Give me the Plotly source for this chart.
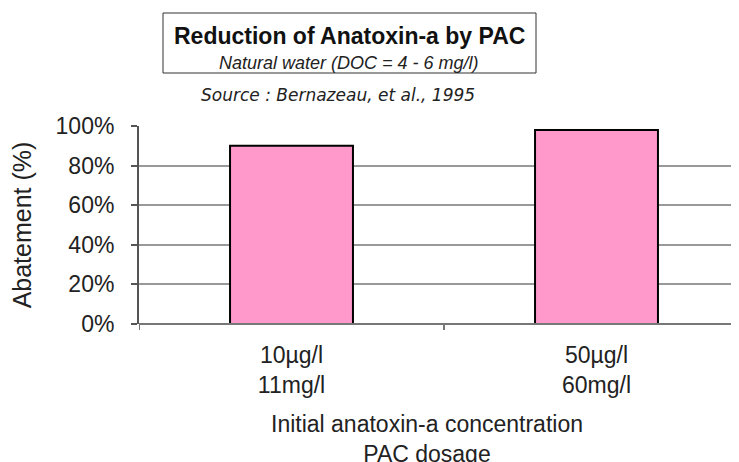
import plotly.graph_objects as go

categories = ["10µg/l<br>11mg/l", "50µg/l<br>60mg/l"]
abatement = [0.90, 0.98]
y_ticks = [0, 0.2, 0.4, 0.6, 0.8, 1.0]
y_tick_labels = ["0%", "20%", "40%", "60%", "80%", "100%"]

# page has an 8px body margin; work in page pixel coordinates
OFF = 8
W, H = 739 - OFF, 462 - OFF
PL, PR, PT, PB = 139, 739, 126, 324   # plot area in page pixels
L, T = PL - OFF, PT - OFF
R = OFF + W - PR
B = OFF + H - PB
pw, ph = PR - PL, PB - PT

def px(x):
    return (x - PL) / pw

def py(y):
    return (PB - y) / ph

FONT = "Liberation Sans, Arial, sans-serif"

fig = go.Figure()
fig.add_trace(go.Bar(
    x=[0, 1], y=abatement, width=0.403,
    marker=dict(color="#FF99CC", line=dict(color="black", width=2)),
    hoverinfo="skip",
))

fig.update_layout(
    width=W, height=H,
    margin=dict(l=L, r=R, t=T, b=B, pad=0),
    plot_bgcolor="white", paper_bgcolor="white",
    showlegend=False,
    font=dict(family=FONT, size=23, color="#222"),
    xaxis=dict(
        range=[-0.5, -0.5 + pw / 305], tickmode="array", tickvals=[0, 1],
        ticktext=categories, showgrid=False, zeroline=False,
        showline=False, ticks="", tickfont=dict(size=23), fixedrange=True,
        ticklabelstandoff=15,
    ),
    yaxis=dict(
        range=[0, 1.0], tickmode="array", tickvals=y_ticks, ticktext=y_tick_labels,
        showgrid=True, gridcolor="#999999", gridwidth=2,
        zeroline=False, showline=True, linecolor="#555", linewidth=2,
        ticks="outside", ticklen=6, tickcolor="#555", tickwidth=2,
        tickfont=dict(size=23), ticklabelstandoff=12, fixedrange=True,
        title=dict(text="Abatement (%)", font=dict(size=25), standoff=20),
    ),
)

# bottom axis line and boundary ticks
fig.add_shape(type="line", xref="paper", yref="paper", x0=0, x1=1, y0=0, y1=0,
              line=dict(color="#777", width=2))
for xb in [-0.5, 0.5]:
    fig.add_shape(type="line", xref="x", yref="paper", x0=xb, x1=xb,
                  y0=0, y1=-6 / ph, line=dict(color="#777", width=2))

# title box
fig.add_shape(type="rect", xref="paper", yref="paper",
              x0=px(163), x1=px(536), y0=py(73), y1=py(13),
              line=dict(color="#333", width=1), fillcolor="white")

fig.add_annotation(xref="paper", yref="paper", x=px(349), y=py(36),
                   text="<b>Reduction of Anatoxin-a by PAC</b>", showarrow=False,
                   font=dict(size=23, color="#111", family=FONT),
                   xanchor="center", yanchor="middle")
fig.add_annotation(xref="paper", yref="paper", x=px(349), y=py(63),
                   text="<i>Natural water (DOC = 4 - 6 mg/l)</i>", showarrow=False,
                   font=dict(size=18, color="#222", family=FONT),
                   xanchor="center", yanchor="middle")
fig.add_annotation(xref="paper", yref="paper", x=px(338), y=py(95),
                   text="<i>Source : Bernazeau, et al., 1995</i>", showarrow=False,
                   font=dict(size=17, color="#222", family="DejaVu Sans, sans-serif"),
                   xanchor="center", yanchor="middle")

# x-axis title
fig.add_annotation(xref="paper", yref="paper", x=px(427), y=py(439),
                   text="Initial anatoxin-a concentration<br>PAC dosage", showarrow=False,
                   font=dict(size=23, color="#222"),
                   xanchor="center", yanchor="middle")

fig.write_html("out.html")
